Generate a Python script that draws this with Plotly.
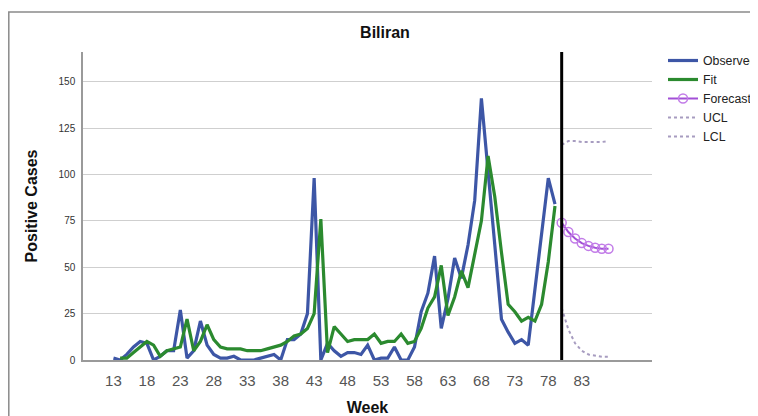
import plotly.graph_objects as go

# ---------------- data ----------------
obs_weeks = list(range(13, 80))
observed = [1, 0, 3, 7, 10, 9, 0, 2, 5, 5,
            27, 1, 5, 21, 8, 3, 1, 1, 2, 0,
            0, 0, 1, 2, 3, 0, 11, 11, 14, 25,
            98, 0, 9, 5, 2, 4, 4, 3, 8, 0,
            1, 1, 7, 0, 0, 7, 26, 36, 56, 17,
            33, 55, 44, 62, 86, 141, 103, 62, 22, 15,
            9, 11, 8, 37, 67, 98, 84]

fit_weeks = list(range(14, 80))
fit = [1, 1, 4, 7, 10, 8, 2, 5, 6, 7,
       22, 5, 10, 19, 11, 7, 6, 6, 6, 5,
       5, 5, 6, 7, 8, 10, 13, 14, 17, 25,
       76, 4, 18, 14, 10, 11, 11, 11, 14, 9,
       10, 10, 14, 9, 10, 17, 28, 34, 51, 24,
       34, 48, 39, 56, 75, 110, 88, 58, 30, 26,
       21, 23, 21, 30, 53, 83]

fc_weeks = list(range(80, 88))
forecast = [74, 69, 65.5, 63, 61.5, 60.5, 60, 60]
ucl = [116, 118, 118, 117.5, 117.5, 117.5, 117.5, 118]
lcl = [28, 16.5, 9, 5, 3, 2.2, 1.8, 1.8]

x_ticks = list(range(13, 84, 5))
x_tick_labels = [str(v) for v in x_ticks]
y_ticks = [0, 25, 50, 75, 100, 125, 150]
y_tick_labels = [str(v) for v in y_ticks]

forecast_start = fc_weeks[0]

# the page body has an 8px margin, so the figure is sized to fit the window
W, H = 750, 408
L, R, T, B = 75, 106, 44, 56
PW, PH = W - L - R, H - T - B

# ---------------- figure ----------------
fig = go.Figure()

fig.add_trace(go.Scatter(x=obs_weeks, y=observed, mode="lines", name="Observed",
                         line=dict(color="#3d56a6", width=3.2)))
fig.add_trace(go.Scatter(x=fit_weeks, y=fit, mode="lines", name="Fit",
                         line=dict(color="#2b8a2f", width=3.2)))
fig.add_trace(go.Scatter(x=fc_weeks, y=forecast, mode="lines+markers", name="Forecast",
                         line=dict(color="#a24fd6", width=2),
                         marker=dict(symbol="circle-open", size=9,
                                     color="#c27ce8", line=dict(width=1.5))))
fig.add_trace(go.Scatter(x=fc_weeks, y=ucl, mode="lines", name="UCL",
                         line=dict(color="#a79cc0", width=2, dash="3px,3px")))
fig.add_trace(go.Scatter(x=fc_weeks, y=lcl, mode="lines", name="LCL",
                         line=dict(color="#a79cc0", width=2, dash="3px,3px")))

# forecast origin line
fig.add_shape(type="line", xref="x", yref="paper",
              x0=forecast_start, x1=forecast_start, y0=0, y1=1,
              line=dict(color="black", width=3))

# outer frame (left/top edges visible, right/bottom beyond the window)
fig.add_shape(type="rect", xref="paper", yref="paper",
              x0=(0.8 - L) / PW, x1=(W + 20 - L) / PW,
              y0=-(B + 20) / PH, y1=(T - 4) / PH + 1,
              line=dict(color="#8a8a8a", width=1.5), layer="below")

fig.update_layout(
    width=W, height=H,
    margin=dict(l=L, r=R, t=T, b=B, autoexpand=False),
    paper_bgcolor="white", plot_bgcolor="white",
    font=dict(family="Liberation Sans, Arial, sans-serif", color="#222"),
    title=dict(text="<b>Biliran</b>", x=377 / W, xref="container", xanchor="center",
               y=1 - 24 / H, yref="container", yanchor="middle",
               font=dict(size=16, color="#111")),
    showlegend=True,
    legend=dict(x=655 / W, xref="container", xanchor="left",
                y=1 - 38 / H, yref="container", yanchor="top",
                font=dict(size=12.3, color="#222"), bgcolor="rgba(0,0,0,0)",
                tracegroupgap=0),
    xaxis=dict(range=[8.45, 93.5], tickmode="array", tickvals=x_ticks,
               ticktext=x_tick_labels, showgrid=False, zeroline=False,
               showline=True, linecolor="#9a9a9a", linewidth=1.5,
               ticks="outside", ticklen=6, tickcolor="rgba(0,0,0,0)",
               tickfont=dict(size=15, color="#555"), automargin=False,
               title=dict(text="<b>Week</b>", font=dict(size=16, color="#111"), standoff=19)),
    yaxis=dict(range=[0, 166], tickmode="array", tickvals=y_ticks,
               ticktext=y_tick_labels, showgrid=True, gridcolor="#cfcfcf", gridwidth=1.2,
               zeroline=False, showline=True, linecolor="#9a9a9a", linewidth=1.5,
               ticks="outside", ticklen=4, tickcolor="rgba(0,0,0,0)",
               tickfont=dict(size=10, color="#333"), automargin=False,
               title=dict(text="<b>Positive Cases</b>", font=dict(size=16, color="#111"), standoff=17)),
)

fig.write_html("out.html")
